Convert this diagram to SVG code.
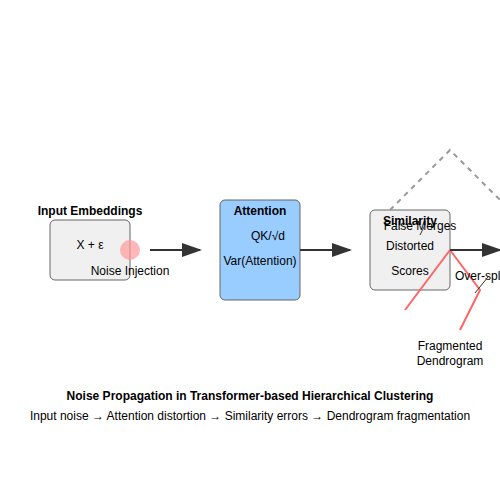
<svg xmlns="http://www.w3.org/2000/svg" width="500" height="500" viewBox="0 0 500 500">
<defs>
<marker id="arr" markerWidth="10" markerHeight="7" refX="9" refY="3.5" orient="auto" viewBox="0 0 10 7">
<polygon points="0 0, 10 3.5, 0 7" fill="#333"/>
</marker>
</defs>
<style>
text{font-family:"Liberation Sans",Arial,sans-serif;font-size:12px;fill:#000;text-anchor:middle}
.b{font-weight:bold}
.box{stroke:#666;stroke-width:1}
.conn{stroke:#333;stroke-width:2;fill:none}
.red{stroke:#ff6666;stroke-width:2;fill:none}
</style>
<rect width="500" height="500" fill="#fff"/>
<g id="input">
<rect class="box" x="50" y="220" width="80" height="60" rx="5" fill="#f0f0f0"/>
<text class="b" x="90" y="215">Input Embeddings</text>
<text x="90" y="249">X + ε</text>
<circle cx="130" cy="250" r="10" fill="#ff9999" opacity="0.7"/>
<text x="130" y="275">Noise Injection</text>
</g>
<g id="attention">
<rect class="box" x="220" y="200" width="80" height="100" rx="5" fill="#99ccff"/>
<text class="b" x="260" y="215">Attention</text>
<text x="268" y="240">QK/√d</text>
<text x="260" y="265">Var(Attention)</text>
</g>
<g id="similarity">
<rect class="box" x="370" y="210" width="80" height="80" rx="5" fill="#f0f0f0"/>
<text class="b" x="410" y="225">Similarity</text>
<text x="410" y="250">Distorted</text>
<text x="410" y="275">Scores</text>
</g>
<g id="dendrogram">
<path d="M390,210 L450,150 L500,200" stroke="#999" stroke-width="2" stroke-dasharray="5,5" fill="none"/>
<path class="red" d="M450,250 L405,310"/>
<path class="red" d="M450,250 L480,290 L460,330"/>
<text x="420" y="230">False Merges</text>
<line x1="420" y1="235" x2="425" y2="225" stroke="#333" stroke-width="1"/>
<text x="455" y="280" style="text-anchor:start">Over-split</text>
<line x1="475" y1="293" x2="488" y2="277" stroke="#333" stroke-width="1"/>
<text x="450" y="350">Fragmented</text>
<text x="450" y="365">Dendrogram</text>
</g>
<g id="connectors">
<line class="conn" x1="150" y1="250" x2="200" y2="250" marker-end="url(#arr)"/>
<line class="conn" x1="300" y1="250" x2="350" y2="250" marker-end="url(#arr)"/>
<line class="conn" x1="450" y1="250" x2="500" y2="250" marker-end="url(#arr)"/>
</g>
<g id="caption">
<text class="b" x="250" y="400">Noise Propagation in Transformer-based Hierarchical Clustering</text>
<text x="250" y="420">Input noise → Attention distortion → Similarity errors → Dendrogram fragmentation</text>
</g>
</svg>
